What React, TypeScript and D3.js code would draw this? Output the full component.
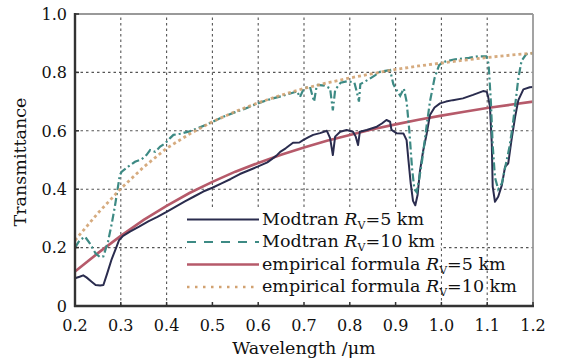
import React from "react";
import * as d3 from "d3";

const xTicks = [0.2, 0.3, 0.4, 0.5, 0.6, 0.7, 0.8, 0.9, 1.0, 1.1, 1.2];
const yTicks = [0, 0.2, 0.4, 0.6, 0.8, 1.0];
const yTickLabels = ["0", "0.2", "0.4", "0.6", "0.8", "1.0"];

const empWl = [0.2, 0.25, 0.3, 0.35, 0.4, 0.45, 0.5, 0.55, 0.6, 0.65, 0.7, 0.75, 0.8, 0.85, 0.9, 0.95, 1.0, 1.05, 1.1, 1.15, 1.2];
const emp5 = [0.118, 0.181, 0.24, 0.295, 0.343, 0.387, 0.425, 0.46, 0.49, 0.518, 0.543, 0.566, 0.586, 0.605, 0.622, 0.638, 0.652, 0.665, 0.678, 0.689, 0.7];
const emp10 = [0.225, 0.318, 0.402, 0.476, 0.54, 0.589, 0.631, 0.666, 0.696, 0.722, 0.745, 0.764, 0.781, 0.796, 0.81, 0.822, 0.832, 0.842, 0.851, 0.859, 0.866];

const mod5Wl = [0.2, 0.21, 0.218, 0.225, 0.235, 0.245, 0.255, 0.262, 0.27, 0.28, 0.29, 0.296, 0.305, 0.32, 0.34, 0.36, 0.38, 0.4, 0.42, 0.44, 0.46, 0.48, 0.5, 0.52, 0.54, 0.56, 0.58, 0.6, 0.62, 0.64, 0.648, 0.66, 0.676, 0.69, 0.698, 0.71, 0.72, 0.735, 0.75, 0.757, 0.763, 0.768, 0.779, 0.793, 0.807, 0.813, 0.818, 0.822, 0.837, 0.859, 0.87, 0.88, 0.888, 0.891, 0.902, 0.917, 0.924, 0.928, 0.933, 0.938, 0.943, 0.948, 0.953, 0.96, 0.968, 0.975, 0.985, 0.997, 1.01, 1.025, 1.047, 1.069, 1.091, 1.099, 1.102, 1.106, 1.11, 1.112, 1.117, 1.124, 1.132, 1.139, 1.146, 1.153, 1.161, 1.168, 1.179, 1.193, 1.2];
const mod5 = [0.095, 0.1, 0.105, 0.098, 0.085, 0.072, 0.07, 0.072, 0.11, 0.16, 0.2, 0.225, 0.24, 0.255, 0.272, 0.29, 0.305, 0.322, 0.34, 0.358, 0.375, 0.392, 0.405, 0.42, 0.435, 0.452, 0.465, 0.478, 0.492, 0.515, 0.528, 0.54, 0.559, 0.56, 0.568, 0.578, 0.586, 0.592, 0.6, 0.575, 0.517, 0.58, 0.597, 0.603, 0.597, 0.58, 0.551, 0.597, 0.603, 0.614, 0.625, 0.637, 0.631, 0.603, 0.592, 0.591, 0.568, 0.5, 0.42, 0.36, 0.345, 0.38, 0.46, 0.53, 0.591, 0.654, 0.68, 0.694, 0.7, 0.705, 0.711, 0.723, 0.736, 0.734, 0.717, 0.683, 0.557, 0.409, 0.357, 0.374, 0.414, 0.477, 0.489, 0.568, 0.648, 0.705, 0.742, 0.749, 0.75];

const mod10Wl = [0.2, 0.21, 0.222, 0.232, 0.245, 0.255, 0.262, 0.272, 0.28, 0.287, 0.293, 0.298, 0.302, 0.316, 0.331, 0.345, 0.356, 0.364, 0.375, 0.386, 0.397, 0.407, 0.415, 0.43, 0.45, 0.47, 0.49, 0.51, 0.53, 0.55, 0.57, 0.59, 0.61, 0.63, 0.65, 0.67, 0.685, 0.691, 0.7, 0.713, 0.722, 0.728, 0.745, 0.757, 0.763, 0.768, 0.78, 0.795, 0.81, 0.815, 0.82, 0.823, 0.84, 0.855, 0.866, 0.888, 0.895, 0.9, 0.91, 0.918, 0.924, 0.93, 0.936, 0.941, 0.946, 0.952, 0.958, 0.963, 0.968, 0.975, 0.985, 0.995, 1.005, 1.03, 1.06, 1.08, 1.098, 1.103, 1.108, 1.112, 1.117, 1.124, 1.132, 1.14, 1.148, 1.155, 1.162, 1.168, 1.175, 1.185, 1.2];
const mod10 = [0.2, 0.225, 0.237, 0.215, 0.18, 0.167, 0.17, 0.22, 0.28, 0.34, 0.4, 0.449, 0.46, 0.477, 0.494, 0.502, 0.517, 0.534, 0.528, 0.546, 0.557, 0.574, 0.586, 0.59, 0.598, 0.61, 0.623, 0.638, 0.652, 0.664, 0.675, 0.688, 0.7, 0.71, 0.718, 0.728, 0.735, 0.715, 0.746, 0.751, 0.7, 0.757, 0.755, 0.745, 0.67, 0.74, 0.765, 0.77, 0.765, 0.735, 0.7, 0.76, 0.775, 0.79, 0.802, 0.808, 0.76, 0.745, 0.72, 0.745, 0.7, 0.6, 0.47, 0.4, 0.39, 0.44, 0.5, 0.56, 0.62, 0.7, 0.78, 0.825, 0.836, 0.845, 0.85, 0.855, 0.855, 0.83, 0.7, 0.55, 0.44, 0.4, 0.42, 0.48, 0.54, 0.61, 0.7, 0.78, 0.84, 0.862, 0.866];

const C_DARK = "#2a2c4e";
const C_TEAL = "#3d8a84";
const C_RED = "#b65a6a";
const C_TAN = "#d2a271";

const FONT = "'DejaVu Serif', serif";

export default function App() {
  const x = d3.scaleLinear().domain([0.2, 1.2]).range([75, 533]);
  const y = d3.scaleLinear().domain([0, 1]).range([306, 14]);
  const line = d3.line<[number, number]>().x((d) => x(d[0])).y((d) => y(d[1]));
  const zip = (a: number[], b: number[]) => a.map((v, i) => [v, b[i]] as [number, number]);

  const legendItems = [
    { pre: "Modtran ", val: "=5 km", color: C_DARK, dash: undefined, w: 2 },
    { pre: "Modtran ", val: "=10 km", color: C_TEAL, dash: "9,8", w: 2.2 },
    { pre: "empirical formula ", val: "=5 km", color: C_RED, dash: undefined, w: 2.6 },
    { pre: "empirical formula ", val: "=10 km", color: C_TAN, dash: "2.5,5.5", w: 2.6 },
  ];

  return (
    <svg width={565} height={359} style={{ position: "absolute", left: 0, top: 0, background: "#fff" }}>
      <rect x={0} y={0} width={565} height={359} fill="#fff" />
      {/* grid */}
      {xTicks.slice(1, -1).map((t) => (
        <line key={"gx" + t} x1={x(t)} x2={x(t)} y1={y(0)} y2={y(1)} stroke="#555" strokeWidth={1.1} strokeDasharray="2.5,3" />
      ))}
      {yTicks.slice(1, -1).map((t) => (
        <line key={"gy" + t} x1={x(0.2)} x2={x(1.2)} y1={y(t)} y2={y(t)} stroke="#555" strokeWidth={1.1} strokeDasharray="2.5,3" />
      ))}
      {/* legend background */}
      <rect x={186} y={208} width={x(1.0) - 187} height={y(0) - 209} fill="#fff" />
      {/* curves */}
      <path d={line(zip(empWl, emp5)) || ""} fill="none" stroke={C_RED} strokeWidth={2.6} />
      <path d={line(zip(mod5Wl, mod5)) || ""} fill="none" stroke={C_DARK} strokeWidth={2} strokeLinejoin="round" />
      <path d={line(zip(mod10Wl, mod10)) || ""} fill="none" stroke={C_TEAL} strokeWidth={2.2} strokeDasharray="8,3,2,3" />
      <path d={line(zip(empWl, emp10)) || ""} fill="none" stroke={C_TAN} strokeWidth={2.8} strokeDasharray="3,3" opacity={0.9} />
      {/* frame */}
      <line x1={x(0.2)} x2={x(1.2)} y1={y(1)} y2={y(1)} stroke="#999" strokeWidth={1.8} />
      <line x1={x(1.2)} x2={x(1.2)} y1={y(1)} y2={y(0)} stroke="#999" strokeWidth={1.8} />
      <line x1={x(0.2)} x2={x(0.2)} y1={y(1) - 1} y2={y(0) + 1} stroke="#333" strokeWidth={2.4} />
      <line x1={x(0.2) - 1} x2={x(1.2) + 1} y1={y(0)} y2={y(0)} stroke="#333" strokeWidth={2.4} />
      {/* ticks */}
      {yTicks.map((t) => (
        <line key={"ty" + t} x1={x(0.2)} x2={x(0.2) + 4} y1={y(t)} y2={y(t)} stroke="#333" strokeWidth={1.5} />
      ))}
      {xTicks.map((t) => (
        <line key={"tx" + t} x1={x(t)} x2={x(t)} y1={y(0)} y2={y(0) - 4} stroke="#333" strokeWidth={1.5} />
      ))}
      {/* tick labels */}
      {yTicks.map((t, i) => (
        <text key={"ly" + t} x={67} y={y(t)} dy="0.36em" textAnchor="end" fontFamily={FONT} fontSize={16} fill="#111">
          {yTickLabels[i]}
        </text>
      ))}
      {xTicks.map((t) => (
        <text key={"lx" + t} x={x(t)} y={331} textAnchor="middle" fontFamily={FONT} fontSize={16} fill="#111">
          {t.toFixed(1)}
        </text>
      ))}
      {/* axis titles */}
      <text x={304} y={354} textAnchor="middle" fontFamily={FONT} fontSize={17.5} fill="#111">
        Wavelength /μm
      </text>
      <text transform="translate(26,162) rotate(-90)" textAnchor="middle" fontFamily={FONT} fontSize={17.5} fill="#111">
        Transmittance
      </text>
      {/* legend */}
      {legendItems.map((it, i) => {
        const by = 224.5 + i * 22.5;
        return (
          <g key={"lg" + i}>
            <line x1={187} x2={259} y1={by - 5} y2={by - 5} stroke={it.color} strokeWidth={it.w} strokeDasharray={it.dash} />
            <text x={262} y={by} fontFamily={FONT} fontSize={17.5} fill="#111">
              {it.pre}
              <tspan fontStyle="italic">R</tspan>
              <tspan fontSize={11} dy={4}>V</tspan>
              <tspan dy={-4}>{it.val}</tspan>
            </text>
          </g>
        );
      })}
    </svg>
  );
}
